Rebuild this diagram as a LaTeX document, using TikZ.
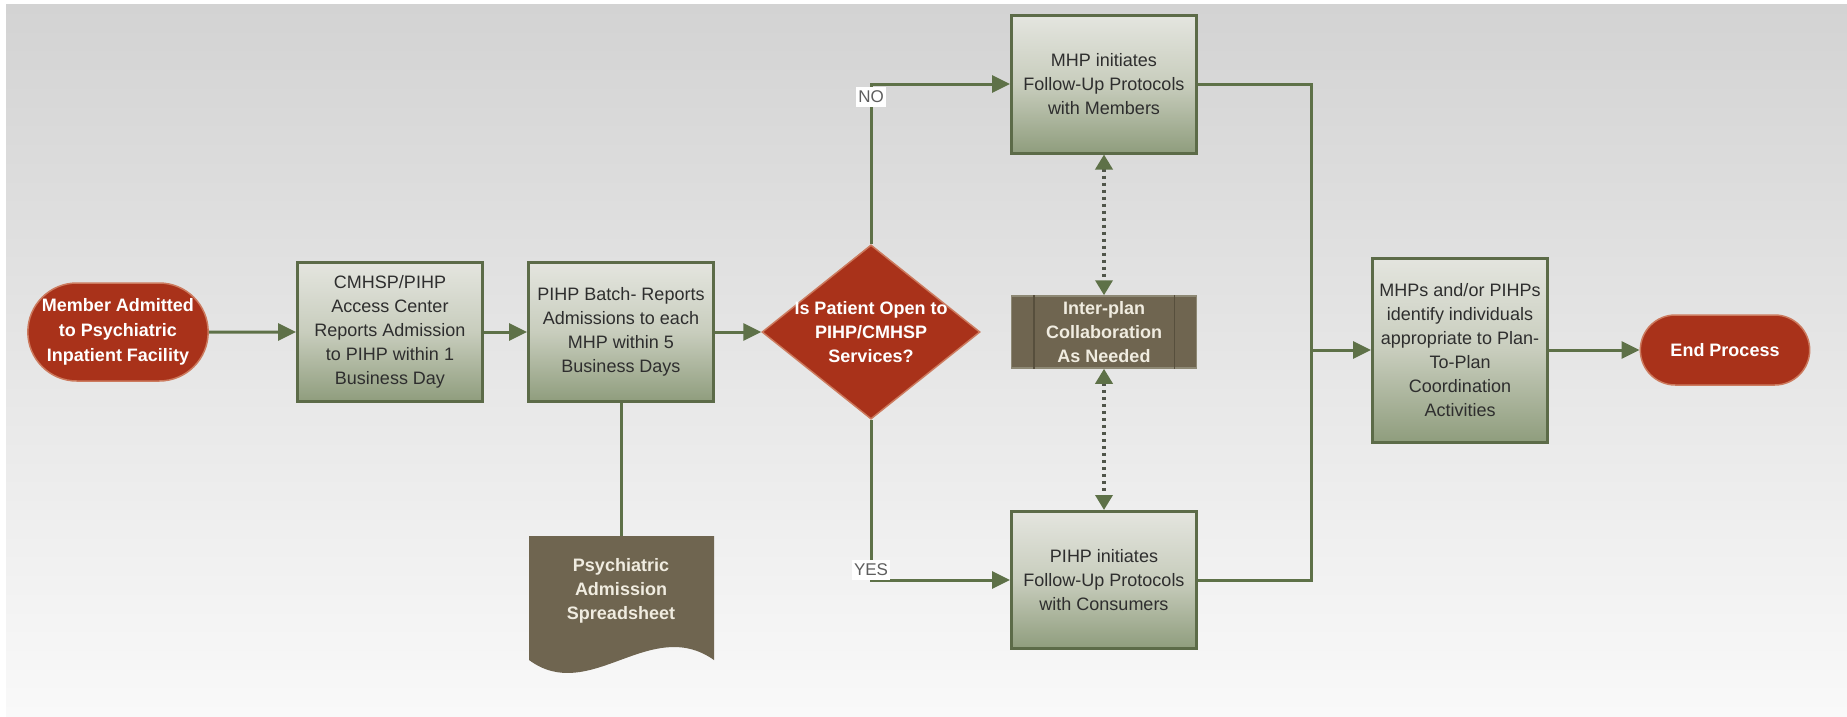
\documentclass[tikz,border=0pt]{standalone}
\usepackage{fontspec}
\setmainfont{Liberation Sans}
\usetikzlibrary{arrows.meta,shapes.geometric,shapes.misc}
\definecolor{flowgreen}{HTML}{5E7148}
\definecolor{boxedge}{HTML}{5C6B48}
\definecolor{boxtop}{HTML}{E4E5DF}
\definecolor{boxmid}{HTML}{C8CDBD}
\definecolor{boxbottom}{HTML}{8F9D7D}
\definecolor{boxtext}{HTML}{2E2E2E}
\definecolor{termred}{HTML}{A9321A}
\definecolor{termedge}{HTML}{CC7A5E}
\definecolor{sheetbrown}{HTML}{6F6550}
\definecolor{sheettext}{HTML}{F0ECE0}
\definecolor{collabedge}{HTML}{8E8975}
\definecolor{collabline}{HTML}{574F3D}
\definecolor{dotgray}{HTML}{50554A}
\definecolor{labelgray}{HTML}{5E5E5E}
\definecolor{bgtop}{HTML}{D3D3D3}
\definecolor{bgbottom}{HTML}{F9F9F9}
\tikzset{
  procbox/.style={rectangle, draw=boxedge, line width=3pt,
    top color=boxtop, bottom color=boxbottom, middle color=boxmid,
    minimum width=185pt, minimum height=139pt, align=center,
    text=boxtext, font=\fontsize{18}{24}\selectfont},
  terminal/.style={rounded rectangle, fill=termred, draw=termedge,
    line width=1.5pt, align=center, text=white,
    font=\bfseries\fontsize{18}{25}\selectfont},
  question/.style={diamond, fill=termred, draw=termedge, line width=1.5pt,
    minimum width=218pt, minimum height=163pt, inner sep=-10pt,
    align=center, text=white, font=\bfseries\fontsize{18}{24}\selectfont},
  sheetnode/.style={rectangle, minimum width=185pt, minimum height=110pt,
    align=center, text=sheettext, font=\bfseries\fontsize{18}{24}\selectfont},
  collabbox/.style={rectangle, fill=sheetbrown, draw=collabedge,
    line width=1.5pt, minimum width=185pt, minimum height=72pt,
    align=center, text=sheettext, font=\bfseries\fontsize{18}{24}\selectfont},
  answer/.style={fill=white, text=labelgray, inner xsep=2pt, inner ysep=4pt,
    font=\fontsize{17}{20}\selectfont},
  link/.style={draw=flowgreen, line width=3pt},
  flow/.style={link, -{Triangle[length=18pt,width=17pt]}},
  dotlink/.style={draw=dotgray, line width=3.5pt, dash pattern=on 3.5pt off 3.5pt,
    {Triangle[length=15pt,width=17pt,color=flowgreen]}-{Triangle[length=15pt,width=17pt,color=flowgreen]}}
}
\begin{document}
\begin{tikzpicture}[x=1pt,y=-1pt]
  \useasboundingbox (0,0) rectangle (1847,716);
  \shade[top color=bgtop, bottom color=bgbottom] (6,4) rectangle (1847,716);

  \node[terminal, minimum width=187pt, minimum height=98pt] (admit) at (118,332)
    {Member Admitted\\to Psychiatric\\Inpatient Facility};
  \node[procbox] (report) at (390,332)
    {CMHSP/PIHP\\Access Center\\Reports Admission\\to PIHP within 1\\Business Day};
  \node[procbox] (batch) at (621,332)
    {PIHP Batch- Reports\\Admissions to each\\MHP within 5\\Business Days};
  \node[question] (decide) at (871,332)
    {Is Patient Open to\\PIHP/CMHSP\\Services?};

  \fill[sheetbrown] (529,536) -- (714,536) -- (714,660)
    .. controls (650,615) and (590,705) .. (529,660) -- cycle;
  \node[sheetnode, anchor=north] (sheet) at (621,536)
    {Psychiatric\\Admission\\Spreadsheet};

  \node[procbox, minimum height=138pt] (mhp) at (1104,84)
    {MHP initiates\\Follow-Up Protocols\\with Members};
  \node[collabbox] (collab) at (1104,332)
    {Inter-plan\\Collaboration\\As Needed};
  \node[procbox, minimum height=137pt] (pihp) at (1104,580)
    {PIHP initiates\\Follow-Up Protocols\\with Consumers};
  \node[procbox, minimum width=175pt, minimum height=184pt] (final) at (1460,350)
    {MHPs and/or PIHPs\\identify individuals\\appropriate to Plan-\\To-Plan\\Coordination\\Activities};
  \node[terminal, minimum width=176pt, minimum height=70pt] (finish) at (1725,350)
    {End Process};
  \coordinate (merge) at (1311,350);

  \draw[collabline, line width=1.5pt]
    ([xshift=23pt]collab.north west) -- ([xshift=23pt]collab.south west)
    ([xshift=-23pt]collab.north east) -- ([xshift=-23pt]collab.south east);

  \draw[flow] (admit) -- (report);
  \draw[flow] (report) -- (batch);
  \draw[flow] (batch) -- (decide);
  \draw[link] (batch) -- (sheet);
  \draw[flow] (decide.north) |- node[answer, yshift=-13pt] (no) {NO} (mhp.west);
  \draw[flow] (decide.south) |- node[answer, yshift=10pt] (yes) {YES} (pihp.west);
  \draw[dotlink] (mhp) -- (collab);
  \draw[dotlink] (collab) -- (pihp);
  \draw[link] (mhp.east) -| (merge);
  \draw[link] (pihp.east) -| (merge);
  \draw[flow] (merge) -- (final);
  \draw[flow] (final) -- (finish);
\end{tikzpicture}
\end{document}
